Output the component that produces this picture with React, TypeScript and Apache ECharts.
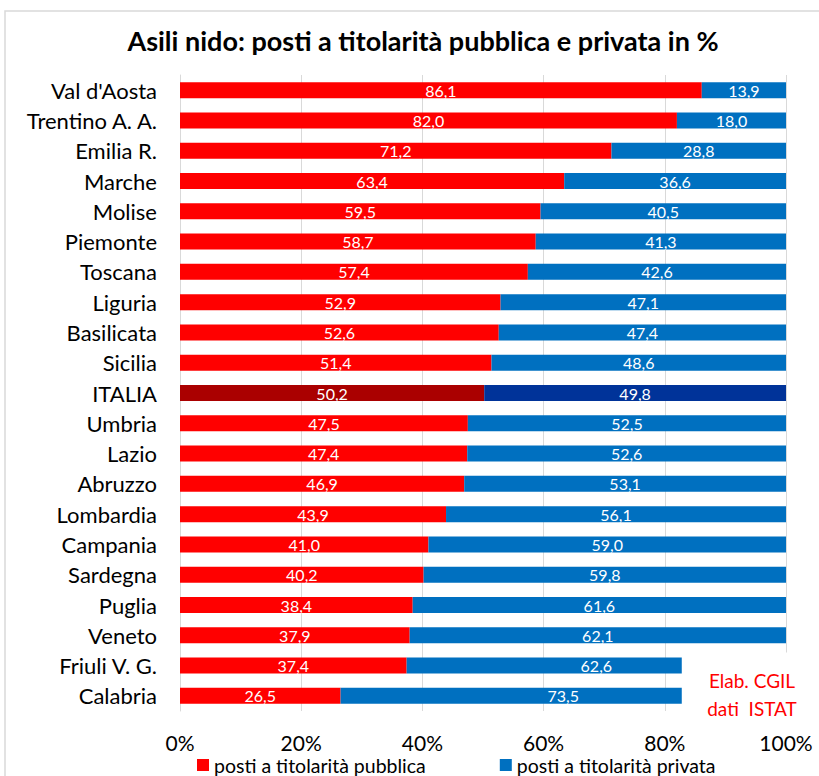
import React, { useEffect, useRef } from "react";
import * as echarts from "echarts";

const categories = [
  "Val d'Aosta", "Trentino A. A.", "Emilia R.", "Marche", "Molise", "Piemonte", "Toscana",
  "Liguria", "Basilicata", "Sicilia", "ITALIA", "Umbria", "Lazio", "Abruzzo", "Lombardia",
  "Campania", "Sardegna", "Puglia", "Veneto", "Friuli V. G.", "Calabria",
];
const pubblica = [86.1, 82.0, 71.2, 63.4, 59.5, 58.7, 57.4, 52.9, 52.6, 51.4, 50.2, 47.5, 47.4, 46.9, 43.9, 41.0, 40.2, 38.4, 37.9, 37.4, 26.5];
const privata = [13.9, 18.0, 28.8, 36.6, 40.5, 41.3, 42.6, 47.1, 47.4, 48.6, 49.8, 52.5, 52.6, 53.1, 56.1, 59.0, 59.8, 61.6, 62.1, 62.6, 73.5];
const xTicks = [0, 20, 40, 60, 80, 100];
const highlight = "ITALIA";

const FONT = "Lato, 'Open Sans', sans-serif";

export default function App() {
  const ref = useRef<HTMLDivElement>(null);
  useEffect(() => {
    if (!ref.current) return;
    const chart = echarts.init(ref.current, null, { renderer: "svg" });
    const fmt = (p: any) => Number(p.value).toFixed(1).replace(".", ",");
    const label = { show: true, position: "inside", color: "#fff", fontSize: 16, fontFamily: FONT, formatter: fmt };
    chart.setOption({
      animation: false,
      backgroundColor: "#fff",
      title: {
        text: "Asili nido: posti a titolarità pubblica e privata in %",
        left: 418, top: 22, textAlign: "center",
        textStyle: { fontSize: 27, fontWeight: "bold", color: "#000", fontFamily: FONT },
      },
      grid: { left: 180, right: 33, top: 75, bottom: 65, containLabel: false },
      legend: {
        top: 755, left: 197, itemWidth: 12, itemHeight: 12, itemGap: 74, padding: 0,
        icon: "rect",
        textStyle: { fontSize: 19.5, color: "#000", fontFamily: FONT },
        data: ["posti a titolarità pubblica", "posti a titolarità privata"],
      },
      xAxis: {
        type: "value", min: 0, max: 100, interval: 20,
        axisLabel: { formatter: (v: number) => (xTicks.includes(v) ? v + "%" : ""), fontSize: 21, color: "#000", fontFamily: FONT, margin: 21 },
        splitLine: { lineStyle: { color: "#d9d9d9" } },
        axisLine: { show: false }, axisTick: { show: false },
      },
      yAxis: {
        type: "category", data: categories, inverse: true,
        axisLabel: { fontSize: 22, color: "#000", fontFamily: FONT, margin: 23 },
        axisLine: { show: true, lineStyle: { color: "#d9d9d9" } },
        axisTick: { show: false },
      },
      series: [
        {
          name: "posti a titolarità pubblica", type: "bar", stack: "t", barWidth: 16,
          itemStyle: { color: "#ff0000" }, label,
          data: pubblica.map((v, i) => categories[i] === highlight ? { value: v, itemStyle: { color: "#aa0000" } } : v),
        },
        {
          name: "posti a titolarità privata", type: "bar", stack: "t", barWidth: 16,
          itemStyle: { color: "#0070c0" }, label,
          data: privata.map((v, i) => categories[i] === highlight ? { value: v, itemStyle: { color: "#003399" } } : v),
        },
      ],
    });
    // note box (Excel text box covering the end of the last two bars)
    const cut = chart.convertToPixel({ xAxisIndex: 0 }, 82.8) as number;
    const yTop = (chart.convertToPixel({ yAxisIndex: 0 }, categories[categories.length - 2]) as number) - 13;
    chart.setOption({
      graphic: [
        { type: "rect", shape: { x: 5, y: 11, width: 900, height: 900 }, style: { fill: "none", stroke: "#d9d9d9", lineWidth: 1.5 }, silent: true, z: 0 },
        { type: "rect", shape: { x: cut, y: yTop, width: 120, height: 62 }, style: { fill: "#fff" }, z: 100 },
        { type: "text", x: 752, y: 680, style: { text: "Elab. CGIL", fill: "#ff0000", fontSize: 19, fontFamily: FONT, textAlign: "center", textVerticalAlign: "middle" }, z: 101 },
        { type: "text", x: 752, y: 708, style: { text: "dati  ISTAT", fill: "#ff0000", fontSize: 19, fontFamily: FONT, textAlign: "center", textVerticalAlign: "middle" }, z: 101 },
      ],
    });
    return () => chart.dispose();
  }, []);
  return <div ref={ref} style={{ width: 819, height: 776, position: "absolute", left: 0, top: 0 }} />;
}
